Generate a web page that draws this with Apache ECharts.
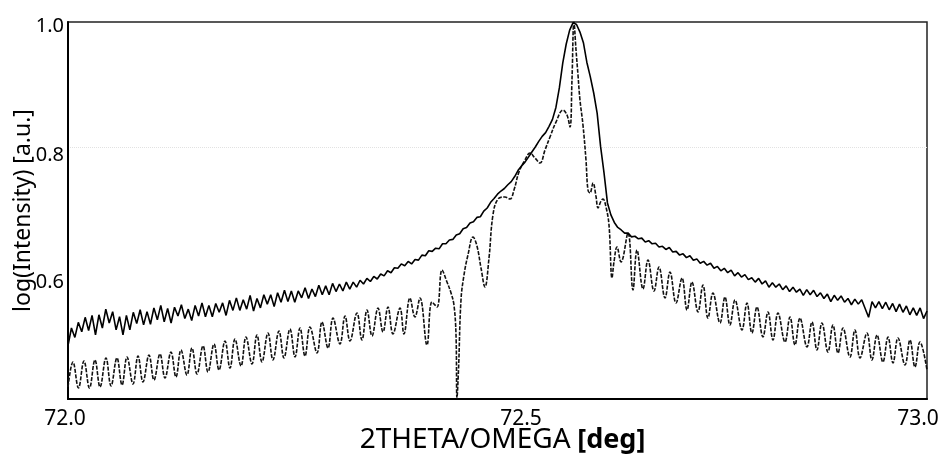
<!DOCTYPE html>
<html>
<head>
<meta charset="utf-8">
<script src="https://cdn.jsdelivr.net/npm/echarts@6/dist/echarts.min.js"></script>
<style>
  html, body { margin: 0; padding: 0; background: #fff; }
  #chart { width: 940px; height: 455px; }
</style>
</head>
<body>
<div id="chart"></div>
<script>
// measured scan (solid line)
const measX = [
  72.000, 72.004, 72.008, 72.012, 72.016, 72.020, 72.024, 72.028, 72.032, 72.036,
  72.040, 72.044, 72.048, 72.052, 72.056, 72.060, 72.064, 72.068, 72.072, 72.076,
  72.080, 72.084, 72.088, 72.092, 72.096, 72.100, 72.104, 72.108, 72.112, 72.116,
  72.120, 72.124, 72.128, 72.132, 72.136, 72.140, 72.144, 72.148, 72.152, 72.156,
  72.160, 72.164, 72.168, 72.172, 72.176, 72.180, 72.184, 72.188, 72.192, 72.196,
  72.200, 72.204, 72.208, 72.212, 72.216, 72.220, 72.224, 72.228, 72.232, 72.236,
  72.240, 72.244, 72.248, 72.252, 72.256, 72.260, 72.264, 72.268, 72.272, 72.276,
  72.280, 72.284, 72.288, 72.292, 72.296, 72.300, 72.304, 72.308, 72.312, 72.316,
  72.320, 72.324, 72.328, 72.332, 72.336, 72.340, 72.344, 72.348, 72.352, 72.356,
  72.360, 72.364, 72.368, 72.372, 72.376, 72.380, 72.384, 72.388, 72.392, 72.396,
  72.400, 72.404, 72.408, 72.412, 72.416, 72.420, 72.424, 72.428, 72.432, 72.436,
  72.440, 72.444, 72.448, 72.452, 72.456, 72.460, 72.464, 72.468, 72.472, 72.476,
  72.480, 72.484, 72.488, 72.492, 72.496, 72.500, 72.504, 72.508, 72.512, 72.516,
  72.520, 72.524, 72.528, 72.532, 72.536, 72.540, 72.544, 72.548, 72.552, 72.556,
  72.560, 72.564, 72.568, 72.572, 72.576, 72.580, 72.584, 72.588, 72.592, 72.596,
  72.600, 72.604, 72.608, 72.612, 72.616, 72.620, 72.624, 72.628, 72.632, 72.636,
  72.640, 72.644, 72.648, 72.652, 72.656, 72.660, 72.664, 72.668, 72.672, 72.676,
  72.680, 72.684, 72.688, 72.692, 72.696, 72.700, 72.704, 72.708, 72.712, 72.716,
  72.720, 72.724, 72.728, 72.732, 72.736, 72.740, 72.744, 72.748, 72.752, 72.756,
  72.760, 72.764, 72.768, 72.772, 72.776, 72.780, 72.784, 72.788, 72.792, 72.796,
  72.800, 72.804, 72.808, 72.812, 72.816, 72.820, 72.824, 72.828, 72.832, 72.836,
  72.840, 72.844, 72.848, 72.852, 72.856, 72.860, 72.864, 72.868, 72.872, 72.876,
  72.880, 72.884, 72.888, 72.892, 72.896, 72.900, 72.904, 72.908, 72.912, 72.916,
  72.920, 72.924, 72.928, 72.932, 72.936, 72.940, 72.944, 72.948, 72.952, 72.956,
  72.960, 72.964, 72.968, 72.972, 72.976, 72.980, 72.984, 72.988, 72.992, 72.996,
  73.000
];
const measY = [
  0.485, 0.513, 0.498, 0.522, 0.507, 0.530, 0.509, 0.533, 0.502, 0.534,
  0.513, 0.543, 0.521, 0.539, 0.510, 0.531, 0.502, 0.533, 0.510, 0.538,
  0.520, 0.542, 0.518, 0.539, 0.519, 0.545, 0.526, 0.549, 0.523, 0.544,
  0.521, 0.546, 0.532, 0.550, 0.528, 0.543, 0.525, 0.549, 0.532, 0.553,
  0.531, 0.549, 0.531, 0.552, 0.538, 0.553, 0.533, 0.557, 0.541, 0.561,
  0.541, 0.558, 0.543, 0.565, 0.540, 0.560, 0.545, 0.566, 0.551, 0.566,
  0.547, 0.569, 0.554, 0.573, 0.555, 0.572, 0.554, 0.572, 0.561, 0.577,
  0.560, 0.575, 0.563, 0.581, 0.566, 0.580, 0.566, 0.584, 0.571, 0.583,
  0.572, 0.586, 0.575, 0.586, 0.578, 0.589, 0.583, 0.592, 0.587, 0.595,
  0.591, 0.599, 0.596, 0.604, 0.601, 0.609, 0.608, 0.615, 0.612, 0.619,
  0.615, 0.622, 0.621, 0.629, 0.628, 0.636, 0.635, 0.640, 0.639, 0.647,
  0.647, 0.653, 0.654, 0.661, 0.663, 0.671, 0.673, 0.680, 0.682, 0.689,
  0.690, 0.699, 0.704, 0.713, 0.719, 0.726, 0.731, 0.735, 0.741, 0.746,
  0.754, 0.764, 0.771, 0.777, 0.785, 0.793, 0.801, 0.810, 0.818, 0.824,
  0.834, 0.845, 0.864, 0.895, 0.935, 0.965, 0.987, 0.999, 0.996, 0.984,
  0.967, 0.936, 0.913, 0.887, 0.855, 0.802, 0.760, 0.712, 0.693, 0.681,
  0.673, 0.669, 0.664, 0.664, 0.658, 0.659, 0.655, 0.656, 0.650, 0.652,
  0.647, 0.648, 0.642, 0.643, 0.638, 0.641, 0.634, 0.635, 0.629, 0.631,
  0.625, 0.628, 0.621, 0.623, 0.616, 0.619, 0.613, 0.616, 0.608, 0.611,
  0.604, 0.608, 0.601, 0.605, 0.596, 0.601, 0.594, 0.598, 0.590, 0.593,
  0.586, 0.592, 0.583, 0.588, 0.578, 0.585, 0.578, 0.583, 0.574, 0.580,
  0.571, 0.578, 0.570, 0.575, 0.565, 0.574, 0.566, 0.573, 0.563, 0.569,
  0.560, 0.567, 0.555, 0.565, 0.557, 0.564, 0.554, 0.560, 0.550, 0.559,
  0.551, 0.558, 0.544, 0.530, 0.555, 0.545, 0.555, 0.544, 0.554, 0.542,
  0.552, 0.539, 0.551, 0.538, 0.548, 0.534, 0.545, 0.533, 0.545, 0.528,
  0.540
];

// simulated curve (dashed line), fringe maxima and minima
const simX = [
  72.0000, 72.0058, 72.0122, 72.0186, 72.0250, 72.0314, 72.0373, 72.0442, 72.0501, 72.0570,
  72.0629, 72.0687, 72.0757, 72.0815, 72.0873, 72.0943, 72.1001, 72.1071, 72.1129, 72.1199,
  72.1257, 72.1315, 72.1385, 72.1443, 72.1502, 72.1572, 72.1630, 72.1700, 72.1758, 72.1828,
  72.1886, 72.1944, 72.2014, 72.2072, 72.2142, 72.2200, 72.2258, 72.2328, 72.2386, 72.2456,
  72.2514, 72.2584, 72.2643, 72.2701, 72.2759, 72.2817, 72.2899, 72.2957, 72.3027, 72.3085,
  72.3166, 72.3225, 72.3283, 72.3364, 72.3422, 72.3481, 72.3539, 72.3609, 72.3667, 72.3725,
  72.3783, 72.3865, 72.3911, 72.3981, 72.4039, 72.4098, 72.4179, 72.4237, 72.4296, 72.4354,
  72.4412, 72.4459, 72.4493, 72.4517, 72.4528, 72.4546, 72.4575, 72.4610, 72.4656, 72.4715,
  72.4761, 72.4808, 72.4854, 72.4901, 72.4947, 72.5006, 72.5087, 72.5145, 72.5192, 72.5250,
  72.5320, 72.5378, 72.5436, 72.5495, 72.5553, 72.5611, 72.5681, 72.5762, 72.5809, 72.5844,
  72.5867, 72.5890, 72.5914, 72.5937, 72.5960, 72.5995, 72.6030, 72.6053, 72.6077, 72.6112,
  72.6146, 72.6170, 72.6205, 72.6228, 72.6263, 72.6298, 72.6333, 72.6356, 72.6391, 72.6438,
  72.6519, 72.6577, 72.6624, 72.6694, 72.6752, 72.6822, 72.6880, 72.6950, 72.7008, 72.7078,
  72.7148, 72.7206, 72.7264, 72.7334, 72.7392, 72.7450, 72.7508, 72.7590, 72.7648, 72.7706,
  72.7765, 72.7846, 72.7904, 72.7962, 72.8021, 72.8090, 72.8149, 72.8207, 72.8265, 72.8347,
  72.8405, 72.8463, 72.8521, 72.8603, 72.8661, 72.8719, 72.8777, 72.8847, 72.8905, 72.8964,
  72.9022, 72.9103, 72.9161, 72.9220, 72.9301, 72.9359, 72.9418, 72.9487, 72.9546, 72.9604,
  72.9662, 72.9744, 72.9802, 72.9860, 72.9918, 73.0000
];
const simY = [
  0.4191, 0.4589, 0.4175, 0.4605, 0.4175, 0.4621, 0.4191, 0.4653, 0.4207, 0.4653,
  0.4223, 0.4668, 0.4239, 0.4684, 0.4271, 0.4700, 0.4302, 0.4716, 0.4334, 0.4748,
  0.4350, 0.4780, 0.4382, 0.4812, 0.4398, 0.4844, 0.4430, 0.4875, 0.4462, 0.4923,
  0.4493, 0.4955, 0.4525, 0.4987, 0.4557, 0.5019, 0.4589, 0.5050, 0.4621, 0.5082,
  0.4653, 0.5114, 0.4668, 0.5130, 0.4684, 0.5146, 0.4732, 0.5225, 0.4812, 0.5289,
  0.4875, 0.5321, 0.4923, 0.5369, 0.4939, 0.5416, 0.5003, 0.5448, 0.5066, 0.5464,
  0.5035, 0.5448, 0.5035, 0.5607, 0.5305, 0.5607, 0.4859, 0.5544, 0.5464, 0.6053,
  0.5862, 0.5687, 0.5496, 0.5019, 0.4016, 0.4462, 0.5576, 0.5974, 0.6292, 0.6578,
  0.6435, 0.6085, 0.5783, 0.6244, 0.6928, 0.7183, 0.7215, 0.7183, 0.7326, 0.7613,
  0.7804, 0.7915, 0.7836, 0.7756, 0.7963, 0.8170, 0.8408, 0.8599, 0.8520, 0.8329,
  0.9077, 1.0000, 0.9554, 0.9157, 0.8759, 0.8361, 0.7804, 0.7326, 0.7279, 0.7438,
  0.7231, 0.7040, 0.7151, 0.7183, 0.7056, 0.6769, 0.5926, 0.6180, 0.6419, 0.6180,
  0.6642, 0.5735, 0.6371, 0.5751, 0.6212, 0.5719, 0.6101, 0.5607, 0.6021, 0.5528,
  0.5926, 0.5416, 0.5862, 0.5385, 0.5814, 0.5289, 0.5687, 0.5210, 0.5623, 0.5178,
  0.5576, 0.5098, 0.5528, 0.5050, 0.5464, 0.4987, 0.5385, 0.4939, 0.5369, 0.4907,
  0.5305, 0.4859, 0.5289, 0.4828, 0.5225, 0.4780, 0.5210, 0.4748, 0.5178, 0.4732,
  0.5130, 0.4668, 0.5098, 0.4653, 0.5050, 0.4621, 0.5019, 0.4589, 0.4987, 0.4573,
  0.4971, 0.4541, 0.4939, 0.4509, 0.4907, 0.4462
];

const xTickLabels = ['72.0', '72.5', '73.0'];
const yTickLabels = ['', '0.6', '0.8', '1.0'];

const font = 'Noto Sans';
const chart = echarts.init(document.getElementById('chart'));

chart.setOption({
  animation: false,
  backgroundColor: '#fff',
  grid: {
    left: 68, right: 13, top: 22, bottom: 56,
    outerBoundsMode: 'none',
    show: true, borderColor: '#222', borderWidth: 1.5
  },
  xAxis: {
    type: 'value',
    min: 72, max: 73, interval: 0.5,
    name: '{a|2THETA/OMEGA}  {b|[deg]}',
    nameLocation: 'middle',
    nameGap: 27,
    nameMoveOverlap: false,
    nameTextStyle: {
      padding: [0, 0, 0, 10],
      rich: {
        a: { fontFamily: font, fontSize: 28, color: '#000' },
        b: { fontFamily: font, fontSize: 27, fontWeight: 'bold', color: '#000' }
      }
    },
    axisLine: { show: true, lineStyle: { color: '#000', width: 2 } },
    axisTick: { show: false },
    splitLine: { show: false },
    axisLabel: {
      margin: 10,
      formatter: function (v) {
        const i = Math.round((v - 72) / 0.5);
        return '{l' + i + '|' + xTickLabels[i] + '}';
      },
      rich: {
        l0: { fontFamily: font, fontSize: 21, color: '#000', padding: [0, 6, 0, 0] },
        l1: { fontFamily: font, fontSize: 21, color: '#000', padding: [0, 0, 0, 47] },
        l2: { fontFamily: font, fontSize: 21, color: '#000', padding: [0, 18, 0, 0] }
      }
    }
  },
  yAxis: {
    type: 'value',
    min: 0.4, max: 1.0, interval: 0.2,
    name: 'log(Intensity) [a.u.]',
    nameLocation: 'middle',
    nameGap: 33,
    nameMoveOverlap: false,
    nameTextStyle: { fontFamily: font, fontSize: 23, color: '#000' },
    axisLine: { show: true, lineStyle: { color: '#000', width: 2 } },
    axisTick: { show: false },
    splitLine: {
      show: true,
      lineStyle: {
        type: 'dotted', width: 1,
        color: ['rgba(0,0,0,0)', 'rgba(0,0,0,0)', '#e2e2e2', 'rgba(0,0,0,0)']
      }
    },
    axisLabel: {
      margin: 4,
      formatter: function (v) {
        const i = Math.round((v - 0.4) / 0.2);
        if (!yTickLabels[i]) return '';
        return '{t' + i + '|' + yTickLabels[i] + '}';
      },
      rich: {
        t1: { fontFamily: font, fontSize: 20, color: '#000', padding: [18, 0, 0, 0] },
        t2: { fontFamily: font, fontSize: 20, color: '#000', padding: [16, 0, 0, 0] },
        t3: { fontFamily: font, fontSize: 20, color: '#000', padding: [8, 0, 0, 0] }
      }
    }
  },
  series: [
    {
      name: 'simulation',
      type: 'line',
      data: simX.map((x, i) => [x, simY[i]]),
      showSymbol: false,
      symbol: 'none',
      smooth: 0.4,
      lineStyle: { color: '#111', width: 1.6, type: [4, 1.5] },
      z: 2
    },
    {
      name: 'measured',
      type: 'line',
      data: measX.map((x, i) => [x, measY[i]]),
      showSymbol: false,
      symbol: 'none',
      lineStyle: { color: '#000', width: 1.6 },
      z: 3
    }
  ]
});
</script>
</body>
</html>
